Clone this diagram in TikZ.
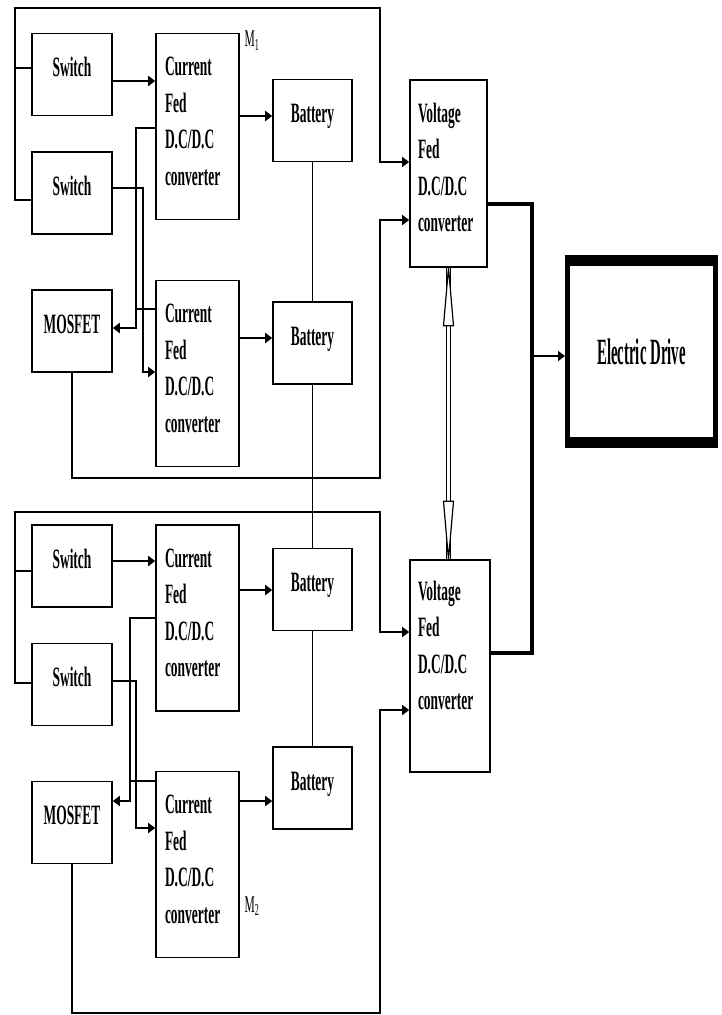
\documentclass[tikz,border=0pt]{standalone}
\usepackage{fontspec}
\usepackage{tikz}
\usetikzlibrary{arrows.meta}
\newfontfamily\boxfont[FakeStretch=0.48]{Liberation Serif}
\newfontfamily\drivefont[FakeStretch=0.4]{Liberation Serif}

\begin{document}
\begin{tikzpicture}[x=1pt,y=-1pt,>={Triangle[length=7pt,width=10pt]},
  blk/.style={draw,line width=1.6pt,minimum width=80pt,minimum height=82pt,inner sep=0pt,text height=43pt,text depth=39pt,font=\boxfont\bfseries\fontsize{28}{36.5}\selectfont},
  conv/.style={blk,minimum width=83pt,minimum height=186pt,text width=65pt,align=left,text height=42pt,text depth=144pt},
  lab/.style={inner sep=0pt,font=\boxfont\fontsize{24}{24}\selectfont},
  arr/.style={->,line width=2pt},
  frame/.style={line width=1.6pt},
  wire/.style={line width=1.3pt},
  outp/.style={line width=4.5pt}]
  \useasboundingbox (0,0) rectangle (722,1015);
  % upper module
  \node[blk] (sw1) at (72,74.5) {Switch};
  \node[blk] (sw2) at (72,193) {Switch};
  \node[blk] (mos1) at (72,331) {MOSFET};
  \node[conv] (cf1) at (197.5,126.5) {Current\\Fed\\D.C/D.C\\converter};
  \node[conv] (cf2) at (197.5,373.5) {Current\\Fed\\D.C/D.C\\converter};
  \node[blk,minimum width=79pt] (bat1) at (312.5,120.5) {Battery};
  \node[blk,minimum width=79pt] (bat2) at (312.5,343) {Battery};
  \node[lab] (m1) at (252,41) {M\textsubscript{1}};
  % lower module
  \node[blk] (sw3) at (72,566) {Switch};
  \node[blk] (sw4) at (72,684.5) {Switch};
  \node[blk] (mos2) at (72,822.5) {MOSFET};
  \node[conv] (cf3) at (197.5,618) {Current\\Fed\\D.C/D.C\\converter};
  \node[conv] (cf4) at (197.5,864.5) {Current\\Fed\\D.C/D.C\\converter};
  \node[blk,minimum width=79pt] (bat3) at (312.5,589.5) {Battery};
  \node[blk,minimum width=79pt] (bat4) at (312.5,788) {Battery};
  \node[lab] (m2) at (252,906) {M\textsubscript{2}};
  % voltage fed stage and drive
  \node[conv,minimum width=77pt,text width=61pt,minimum height=187pt,text depth=145pt] (vf1) at (448.5,173.5) {Voltage\\Fed\\D.C/D.C\\converter};
  \node[conv,minimum width=80pt,text width=64pt,minimum height=212pt,text height=40pt,text depth=172pt] (vf2) at (450,666) {Voltage\\Fed\\D.C/D.C\\converter};
  \node[draw,line width=5pt,outer sep=0pt,minimum width=148pt,minimum height=182pt,font=\drivefont\bfseries\fontsize{37}{37}\selectfont] (drive) at (641.5,351.5) {Electric Drive};
  \draw[line width=11pt,shorten <=-2.5pt,shorten >=-2.5pt] (drive.north west) -- (drive.north east);
  \draw[line width=11pt,shorten <=-2.5pt,shorten >=-2.5pt] (drive.south west) -- (drive.south east);

  % upper wiring
  \draw[frame,->] (sw2.west |- 0,200) -- (15,200) |- (380,8) |- (vf1.west |- 0,162);
  \draw[frame] (sw1.west |- 0,68) -- (15,68);
  \draw[arr] (sw1.east |- 0,81) -- (cf1.west |- 0,81);
  \draw[arr] (cf1.east |- 0,116) -- (bat1.west |- 0,116);
  \draw[arr] (cf1.west |- 0,128) -| (136,328) -- (mos1.east |- 0,328);
  \draw[frame] (cf2.west |- 0,309) -- (136,309);
  \draw[arr] (sw2.east |- 0,188) -| (143,372) -- (cf2.west |- 0,372);
  \draw[arr] (cf2.east |- 0,338) -- (bat2.west |- 0,338);
  \draw[frame,->] (mos1.south) |- (380,478) |- (vf1.west |- 0,220);
  % lower wiring
  \draw[frame,->] (sw4.west |- 0,683) -- (15,683) |- (380,512) |- (vf2.west |- 0,632);
  \draw[frame] (sw3.west |- 0,571) -- (15,571);
  \draw[arr] (sw3.east |- 0,561) -- (cf3.west |- 0,561);
  \draw[arr] (cf3.east |- 0,590) -- (bat3.west |- 0,590);
  \draw[arr] (cf3.west |- 0,618) -| (130,801) -- (mos2.east |- 0,801);
  \draw[frame] (cf4.west |- 0,781) -- (130,781);
  \draw[arr] (sw4.east |- 0,681) -| (136,828) -- (cf4.west |- 0,828);
  \draw[arr] (cf4.east |- 0,801) -- (bat4.west |- 0,801);
  \draw[frame,->] (mos2.south) |- (380,1013) |- (vf2.west |- 0,710);
  % battery string
  \draw[wire] (bat1) -- (bat2) -- (bat3) -- (bat4);

  % output bus
  \draw[outp] (vf1.east |- 0,204) -| (532,653) -- (vf2.east |- 0,653);
  \coordinate (tap) at (532,356);
  \draw[arr] (tap) -- ([xshift=-2.5pt]drive.west |- tap);
  % link between the two voltage fed converters
  \draw[double,double distance=3.5pt,line width=1.2pt] (vf1.south) -- (vf1.south |- vf2.north);
  \draw[line width=1.2pt,fill=white] (vf1.south) -- ++(5,58) -- ++(-10,0) -- cycle;
  \draw[line width=1.2pt,fill=white] (vf1.south |- vf2.north) -- ++(5,-58) -- ++(-10,0) -- cycle;
\end{tikzpicture}
\end{document}
